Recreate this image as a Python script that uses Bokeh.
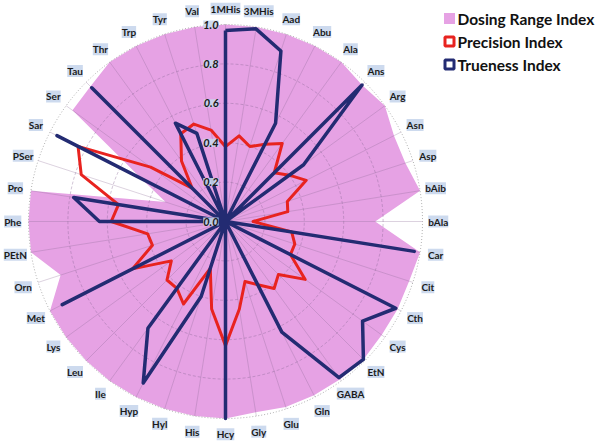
import numpy as np
from bokeh.plotting import figure
from bokeh.models import Range1d, Label
from bokeh.embed import file_html
from bokeh.resources import INLINE

categories = ["1MHis", "3MHis", "Aad", "Abu", "Ala", "Ans", "Arg", "Asn", "Asp", "bAib",
              "bAla", "Car", "Cit", "Cth", "Cys", "EtN", "GABA", "Gln", "Glu", "Gly",
              "Hcy", "His", "Hyl", "Hyp", "Ile", "Leu", "Lys", "Met", "Orn", "PEtN",
              "Phe", "Pro", "PSer", "Sar", "Ser", "Tau", "Thr", "Trp", "Tyr", "Val"]

dosing_range = [1.0, 1.0, 1.0, 1.0, 1.0, 0.98, 1.0, 0.96, 0.96, 1.0,
                0.76, 1.0, 0.98, 0.98, 0.98, 0.99, 0.99, 0.99, 0.99, 0.98,
                1.0, 1.0, 1.0, 1.0, 1.0, 1.0, 1.0, 1.0, 0.88, 1.0,
                1.0, 1.0, 0.32, 0.48, 0.96, 0.97, 1.0, 1.0, 1.0, 1.0]

precision = [0.38, 0.44, 0.40, 0.44, 0.49, 0.35, 0.40, 0.46, 0.33, 0.32,
             0.14, 0.34, 0.37, 0.37, 0.50, 0.38, 0.42, 0.36, 0.32, 0.45,
             0.63, 0.45, 0.25, 0.47, 0.42, 0.42, 0.34, 0.53, 0.39, 0.40,
             0.58, 0.55, 0.77, 0.84, 0.47, 0.24, 0.38, 0.50, 0.52, 0.47]

trueness = [0.97, 0.99, 0.91, 0.56, 0.0, 0.98, 0.49, 0.0, 0.0, 0.0,
            0.0, 0.97, 0.0, 0.97, 0.86, 0.99, 0.98, 0.63, 0.0, 0.0,
            1.0, 0.0, 0.40, 0.92, 0.67, 0.0, 0.0, 0.93, 0.0, 0.0,
            0.64, 0.78, 0.0, 0.96, 0.0, 0.96, 0.0, 0.56, 0.47, 0.0]

ring_values = [0.2, 0.4, 0.6, 0.8, 1.0]
tick_values = [0.0, 0.2, 0.4, 0.6, 0.8, 1.0]
tick_labels = ["0.0", "0.2", "0.4", "0.6", "0.8", "1.0"]

legend_names = ["Dosing Range Index", "Precision Index", "Trueness Index"]

PINK = "#E6A2E4"
RED = "#E8231F"
NAVY = "#232B72"
LABEL_BG = "#C8D6EC"

R = 197.0
W, H = 600, 441
cx, cy = 225.0, 221.0

p = figure(width=W, height=H,
           x_range=Range1d(-cx / R, (W - cx) / R),
           y_range=Range1d(-(H - cy) / R, cy / R),
           output_backend="svg", toolbar_location=None,
           x_axis_type=None, y_axis_type=None, min_border=0)
p.grid.visible = False
p.outline_line_color = None
p.background_fill_color = "white"

n = len(categories)
theta = np.arange(n) * 2 * np.pi / n
sx, cs = np.sin(theta), np.cos(theta)

def polar(vals):
    v = np.asarray(vals, dtype=float)
    return list(v * sx) + [v[0] * sx[0]], list(v * cs) + [v[0] * cs[0]]

# dosing range area
dx, dy = polar(dosing_range)
p.patch(dx, dy, fill_color=PINK, line_color=None)

# grid rings and spokes
t = np.linspace(0, 2 * np.pi, 361)
ring_xs = [list(r * np.sin(t)) for r in ring_values[:-1]]
ring_ys = [list(r * np.cos(t)) for r in ring_values[:-1]]
p.multi_line(ring_xs, ring_ys, line_color="#8a6a96", line_alpha=0.4, line_width=1, line_dash="3 2")
p.line(list(np.sin(t)), list(np.cos(t)), line_color="#b0b0b0", line_width=1, line_dash="1 2")
spoke_xs = [[0, sx[i]] for i in range(n)]
spoke_ys = [[0, cs[i]] for i in range(n)]
p.multi_line(spoke_xs, spoke_ys, line_color="#8a6a96", line_alpha=0.3, line_width=1)

# precision and trueness
px, py = polar(precision)
p.line(px, py, line_color=RED, line_width=3, line_join="round")
tx, ty = polar(trueness)
p.line(tx, ty, line_color=NAVY, line_width=3.5, line_join="round")

# category labels
for i, name in enumerate(categories):
    p.add_layout(Label(x=1.08 * sx[i], y=1.08 * cs[i], text=name,
                       text_align="center", text_baseline="middle",
                       text_font="Lato", text_font_style="bold", text_font_size="10px",
                       text_color="#1a1a1a", background_fill_color=LABEL_BG,
                       background_fill_alpha=0.9))

# value axis labels
for v, lab in zip(tick_values, tick_labels):
    p.add_layout(Label(x=-0.035, y=v, text=lab, text_align="right", text_baseline="middle",
                       text_font="Lato", text_font_style="bold italic", text_font_size="11px",
                       text_color="#1a1a1a", background_fill_color=LABEL_BG,
                       background_fill_alpha=0.9))

# legend (screen units, from top-left)
leg_x = 443
rows_top = [18, 41, 64]
rows = [H - r for r in rows_top]
def to_data(px_x, px_y):
    return (px_x - cx) / R, (cy - px_y) / R
lx0, ly0 = to_data(leg_x + 6, rows_top[0])
lx1, ly1 = to_data(leg_x + 6, rows_top[1])
lx2, ly2 = to_data(leg_x + 6, rows_top[2])
p.rect(x=[lx0], y=[ly0], width=11 / R, height=11 / R, fill_color=PINK, line_color=None)
p.rect(x=[lx1], y=[ly1], width=9 / R, height=9 / R, fill_color="white", line_color=RED, line_width=3)
p.rect(x=[lx2], y=[ly2], width=9 / R, height=9 / R, fill_color="white", line_color=NAVY, line_width=3)
for name, ry in zip(legend_names, rows):
    p.add_layout(Label(x=leg_x + 14, y=ry, x_units="screen", y_units="screen", text=name,
                       text_align="left", text_baseline="middle",
                       text_font="Lato", text_font_style="bold", text_font_size="15.5px",
                       text_color="#111111"))

open("out.html", "w").write(file_html(p, INLINE))
